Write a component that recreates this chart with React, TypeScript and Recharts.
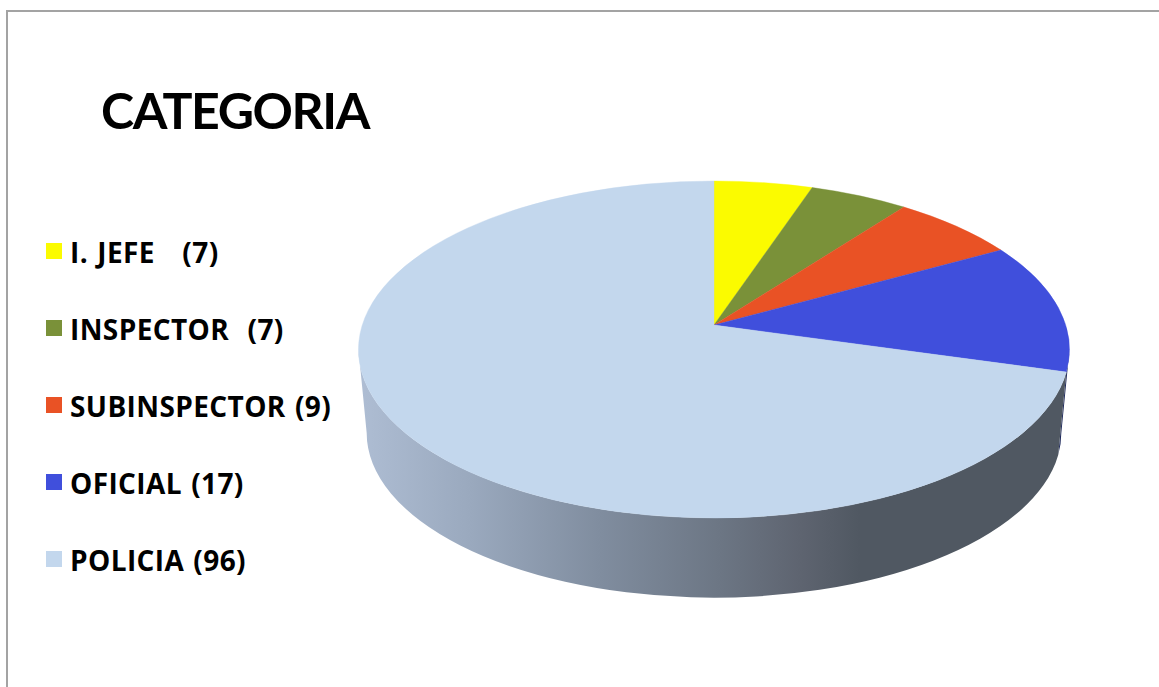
import { Legend, Pie, PieChart, Cell } from 'recharts'

const categories = ['I. JEFE', 'INSPECTOR', 'SUBINSPECTOR', 'OFICIAL', 'POLICIA']
const counts = [7, 7, 9, 17, 96]
const labelGaps = ['   ', '  ', ' ', ' ', ' ']
const topColors = ['#fbfb00', '#7a9139', '#e95225', '#404fdc', '#c3d7ed']
const wallColors = ['none', 'none', 'none', '#1f2a5c', 'url(#wallShade)']

const rows = categories.map((name, i) => ({ name, value: counts[i], gap: labelGaps[i] }))

// Tilted disc: the pie's circle is projected so its centre sits above the ellipse centre
const APEX_X = 714
const APEX_Y = 325
const TOP_Y = 181
const BOTTOM_Y = 518
const RX = 355.5
const RY = (BOTTOM_Y - TOP_Y) / 2
const ELLIPSE_Y = (TOP_Y + BOTTOM_Y) / 2
const FAR = APEX_Y - TOP_Y
const NEAR = BOTTOM_Y - APEX_Y
const K = (NEAR - FAR) / (NEAR + FAR)
const A = FAR * (1 + K)
const B = RX * Math.sqrt(1 - K * K)

// Lower rim of the wall
const BASE_SCALE = 0.977
const BASE_Y = 433

type Pt = { x: number; y: number }

// t is measured clockwise from twelve o'clock, in radians
function project(t: number): Pt {
  const w = 1 + K * Math.cos(t)
  return { x: APEX_X + (B * Math.sin(t)) / w, y: APEX_Y - (A * Math.cos(t)) / w }
}

function toBase(p: Pt): Pt {
  return { x: APEX_X + (p.x - APEX_X) * BASE_SCALE, y: BASE_Y + (p.y - ELLIPSE_Y) * BASE_SCALE }
}

function clockwise(angle: number) {
  return ((90 - angle) * Math.PI) / 180
}

function isLargeArc(a: Pt, b: Pt) {
  const from = Math.atan2((a.y - ELLIPSE_Y) / RY, (a.x - APEX_X) / RX)
  const to = Math.atan2((b.y - ELLIPSE_Y) / RY, (b.x - APEX_X) / RX)
  const span = (to - from + Math.PI * 4) % (Math.PI * 2)
  return span > Math.PI ? 1 : 0
}

function TopFace(props: any) {
  const a = project(clockwise(props.startAngle))
  const b = project(clockwise(props.endAngle))
  const d = `M${APEX_X},${APEX_Y} L${a.x},${a.y} A${RX},${RY} 0 ${isLargeArc(a, b)} 1 ${b.x},${b.y} Z`
  return <path d={d} fill={props.fill} stroke={props.fill} strokeWidth={0.4} />
}

function WallFace(props: any) {
  // Only the part of the rim facing the viewer gets a wall
  const firstVisible = Math.acos(-K)
  const lastVisible = Math.PI * 2 - firstVisible
  const t0 = Math.max(clockwise(props.startAngle), firstVisible)
  const t1 = Math.min(clockwise(props.endAngle), lastVisible)
  if (t0 >= t1) return null
  const a = project(t0)
  const b = project(t1)
  const c = toBase(b)
  const e = toBase(a)
  const large = isLargeArc(a, b)
  const d =
    `M${a.x},${a.y} A${RX},${RY} 0 ${large} 1 ${b.x},${b.y} L${c.x},${c.y} ` +
    `A${RX * BASE_SCALE},${RY * BASE_SCALE} 0 ${large} 0 ${e.x},${e.y} Z`
  return <path d={d} fill={props.fill} />
}

function LegendRows() {
  return (
    <div>
      {rows.map((row, i) => (
        <div
          key={row.name}
          style={{ position: 'absolute', left: 0, top: i * 77, height: 40, whiteSpace: 'pre' }}
        >
          <span
            style={{
              position: 'absolute',
              left: 0,
              top: 12,
              width: 16,
              height: 16,
              background: topColors[i],
            }}
          />
          <span style={{ position: 'absolute', left: 24, top: 1, lineHeight: '40px' }}>
            {`${row.name}${row.gap}(${row.value})`}
          </span>
        </div>
      ))}
    </div>
  )
}

export default function App() {
  return (
    <div
      style={{
        position: 'absolute',
        left: 0,
        top: 0,
        width: 1159,
        height: 687,
        overflow: 'hidden',
        background: '#fff',
      }}
    >
      <div
        style={{
          position: 'absolute',
          left: 6,
          top: 10,
          width: 1160,
          height: 700,
          borderTop: '2px solid #a3a3a3',
          borderLeft: '2px solid #a3a3a3',
        }}
      />
      <div
        style={{
          position: 'absolute',
          left: 101,
          top: 79,
          lineHeight: '62px',
          fontFamily: 'Lato, sans-serif',
          fontWeight: 700,
          fontSize: 50,
          letterSpacing: -1.4,
          color: '#000',
        }}
      >
        CATEGORIA
      </div>
      <PieChart width={1159} height={687} style={{ position: 'absolute', left: 0, top: 0 }}>
        <defs>
          <linearGradient id="wallShade" gradientUnits="userSpaceOnUse" x1="360" y1="0" x2="860" y2="0">
            <stop offset="0%" stopColor="#aebdd3" />
            <stop offset="22%" stopColor="#9aa9be" />
            <stop offset="48%" stopColor="#808d9f" />
            <stop offset="72%" stopColor="#6c7684" />
            <stop offset="88%" stopColor="#5e6470" />
            <stop offset="100%" stopColor="#505862" />
          </linearGradient>
        </defs>
        <Pie
          data={rows}
          dataKey="value"
          nameKey="name"
          cx={APEX_X}
          cy={APEX_Y}
          outerRadius={RX}
          startAngle={90}
          endAngle={-270}
          stroke="none"
          legendType="none"
          isAnimationActive={false}
          shape={WallFace}
          inactiveShape={WallFace}
          rootTabIndex={-1}
        >
          {rows.map((row, i) => (
            <Cell key={row.name} fill={wallColors[i]} />
          ))}
        </Pie>
        <Pie
          data={rows}
          dataKey="value"
          nameKey="name"
          cx={APEX_X}
          cy={APEX_Y}
          outerRadius={RX}
          startAngle={90}
          endAngle={-270}
          stroke="none"
          isAnimationActive={false}
          shape={TopFace}
          inactiveShape={TopFace}
          rootTabIndex={-1}
        >
          {rows.map((row, i) => (
            <Cell key={row.name} fill={topColors[i]} />
          ))}
        </Pie>
        <Legend
          content={<LegendRows />}
          wrapperStyle={{
            position: 'absolute',
            left: 46,
            top: 231,
            width: 320,
            height: 360,
            fontFamily: '"Open Sans", sans-serif',
            fontWeight: 700,
            fontSize: 28,
            letterSpacing: 0.4,
            wordSpacing: 1.5,
            color: '#000',
          }}
        />
      </PieChart>
    </div>
  )
}
